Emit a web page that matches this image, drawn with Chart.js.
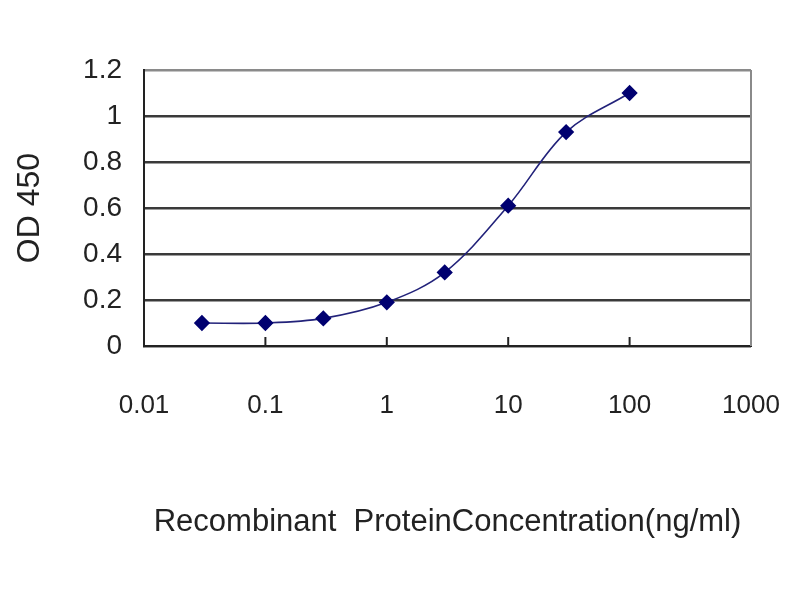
<!DOCTYPE html>
<html>
<head>
<meta charset="utf-8">
<script src="https://cdn.jsdelivr.net/npm/chart.js@4/dist/chart.umd.min.js"></script>
<style>
  html, body { margin: 0; padding: 0; background: #fff; }
</style>
</head>
<body>
<canvas id="c" width="800" height="600"></canvas>
<script>
'use strict';
const concentration = [0.03, 0.1, 0.3, 1, 3, 10, 30, 100];
const od450 = [0.10, 0.10, 0.12, 0.19, 0.32, 0.61, 0.93, 1.10];
const xTicks = [0.01, 0.1, 1, 10, 100, 1000];
const yTicks = [0, 0.2, 0.4, 0.6, 0.8, 1, 1.2];

const font = '"Liberation Sans", Arial, sans-serif';

// frame + inside ticks on the bottom axis, placed with the scales
const frame = {
	id: 'frame',
	afterDatasetsDraw: (chart) => {
		const ctx = chart.ctx, a = chart.chartArea, x = chart.scales.x;
		ctx.save();
		ctx.strokeStyle = '#8a8a8a';
		ctx.lineWidth = 2;
		ctx.beginPath();
		ctx.moveTo(a.right, a.top);
		ctx.lineTo(a.right, a.bottom);
		ctx.stroke();
		ctx.strokeStyle = '#222';
		ctx.lineWidth = 2;
		xTicks.slice(1, -1).forEach(v => {
			const px = x.getPixelForValue(v);
			ctx.beginPath();
			ctx.moveTo(px, a.bottom);
			ctx.lineTo(px, a.bottom - 9);
			ctx.stroke();
		});
		ctx.restore();
	}
};

const chart = new Chart(document.getElementById('c').getContext('2d'), {
	type: 'line',
	data: {
		datasets: [{
			data: concentration.map((c, i) => ({x: c, y: od450[i]})),
			borderColor: '#22227a',
			borderWidth: 1.6,
			backgroundColor: '#000070',
			pointStyle: 'rectRot',
			pointRadius: 7,
			pointBorderColor: '#000070',
			tension: 0.35,
			fill: false
		}]
	},
	options: {
		responsive: false,
		animation: false,
		layout: {padding: {left: 7, top: 70, right: 49, bottom: 55}},
		plugins: {legend: {display: false}, tooltip: {enabled: false}},
		scales: {
			x: {
				type: 'logarithmic',
				min: 0.01,
				max: 1000,
				afterBuildTicks: s => { s.ticks = xTicks.map(v => ({value: v})); },
				afterFit: s => { s.height = 199; s.paddingLeft = 0; s.paddingRight = 0; },
				grid: {display: false, drawTicks: false},
				border: {display: true, color: '#222', width: 2},
				ticks: {
					padding: 44,
					autoSkip: false,
					maxRotation: 0,
					color: '#222',
					font: {family: font, size: 26},
					callback: v => String(v)
				},
				title: {
					display: true,
					text: 'Recombinant  ProteinConcentration(ng/ml)',
					color: '#222',
					font: {family: font, size: 31}
				}
			},
			y: {
				min: 0,
				max: 1.2,
				afterBuildTicks: s => { s.ticks = yTicks.map(v => ({value: v})); },
				afterFit: s => { s.width = 137; },
				grid: {
					color: ctx => ctx.tick && ctx.tick.value === 1.2 ? '#8a8a8a' : '#3a3a3a',
					lineWidth: 2.5,
					drawTicks: false
				},
				border: {display: true, color: '#222', width: 2},
				ticks: {
					padding: 22,
					color: '#222',
					font: {family: font, size: 28},
					callback: v => String(+v.toFixed(1))
				},
				title: {
					display: true,
					text: 'OD 450',
					color: '#222',
					font: {family: font, size: 32}
				}
			}
		}
	},
	plugins: [frame]
});
</script>
</body>
</html>
